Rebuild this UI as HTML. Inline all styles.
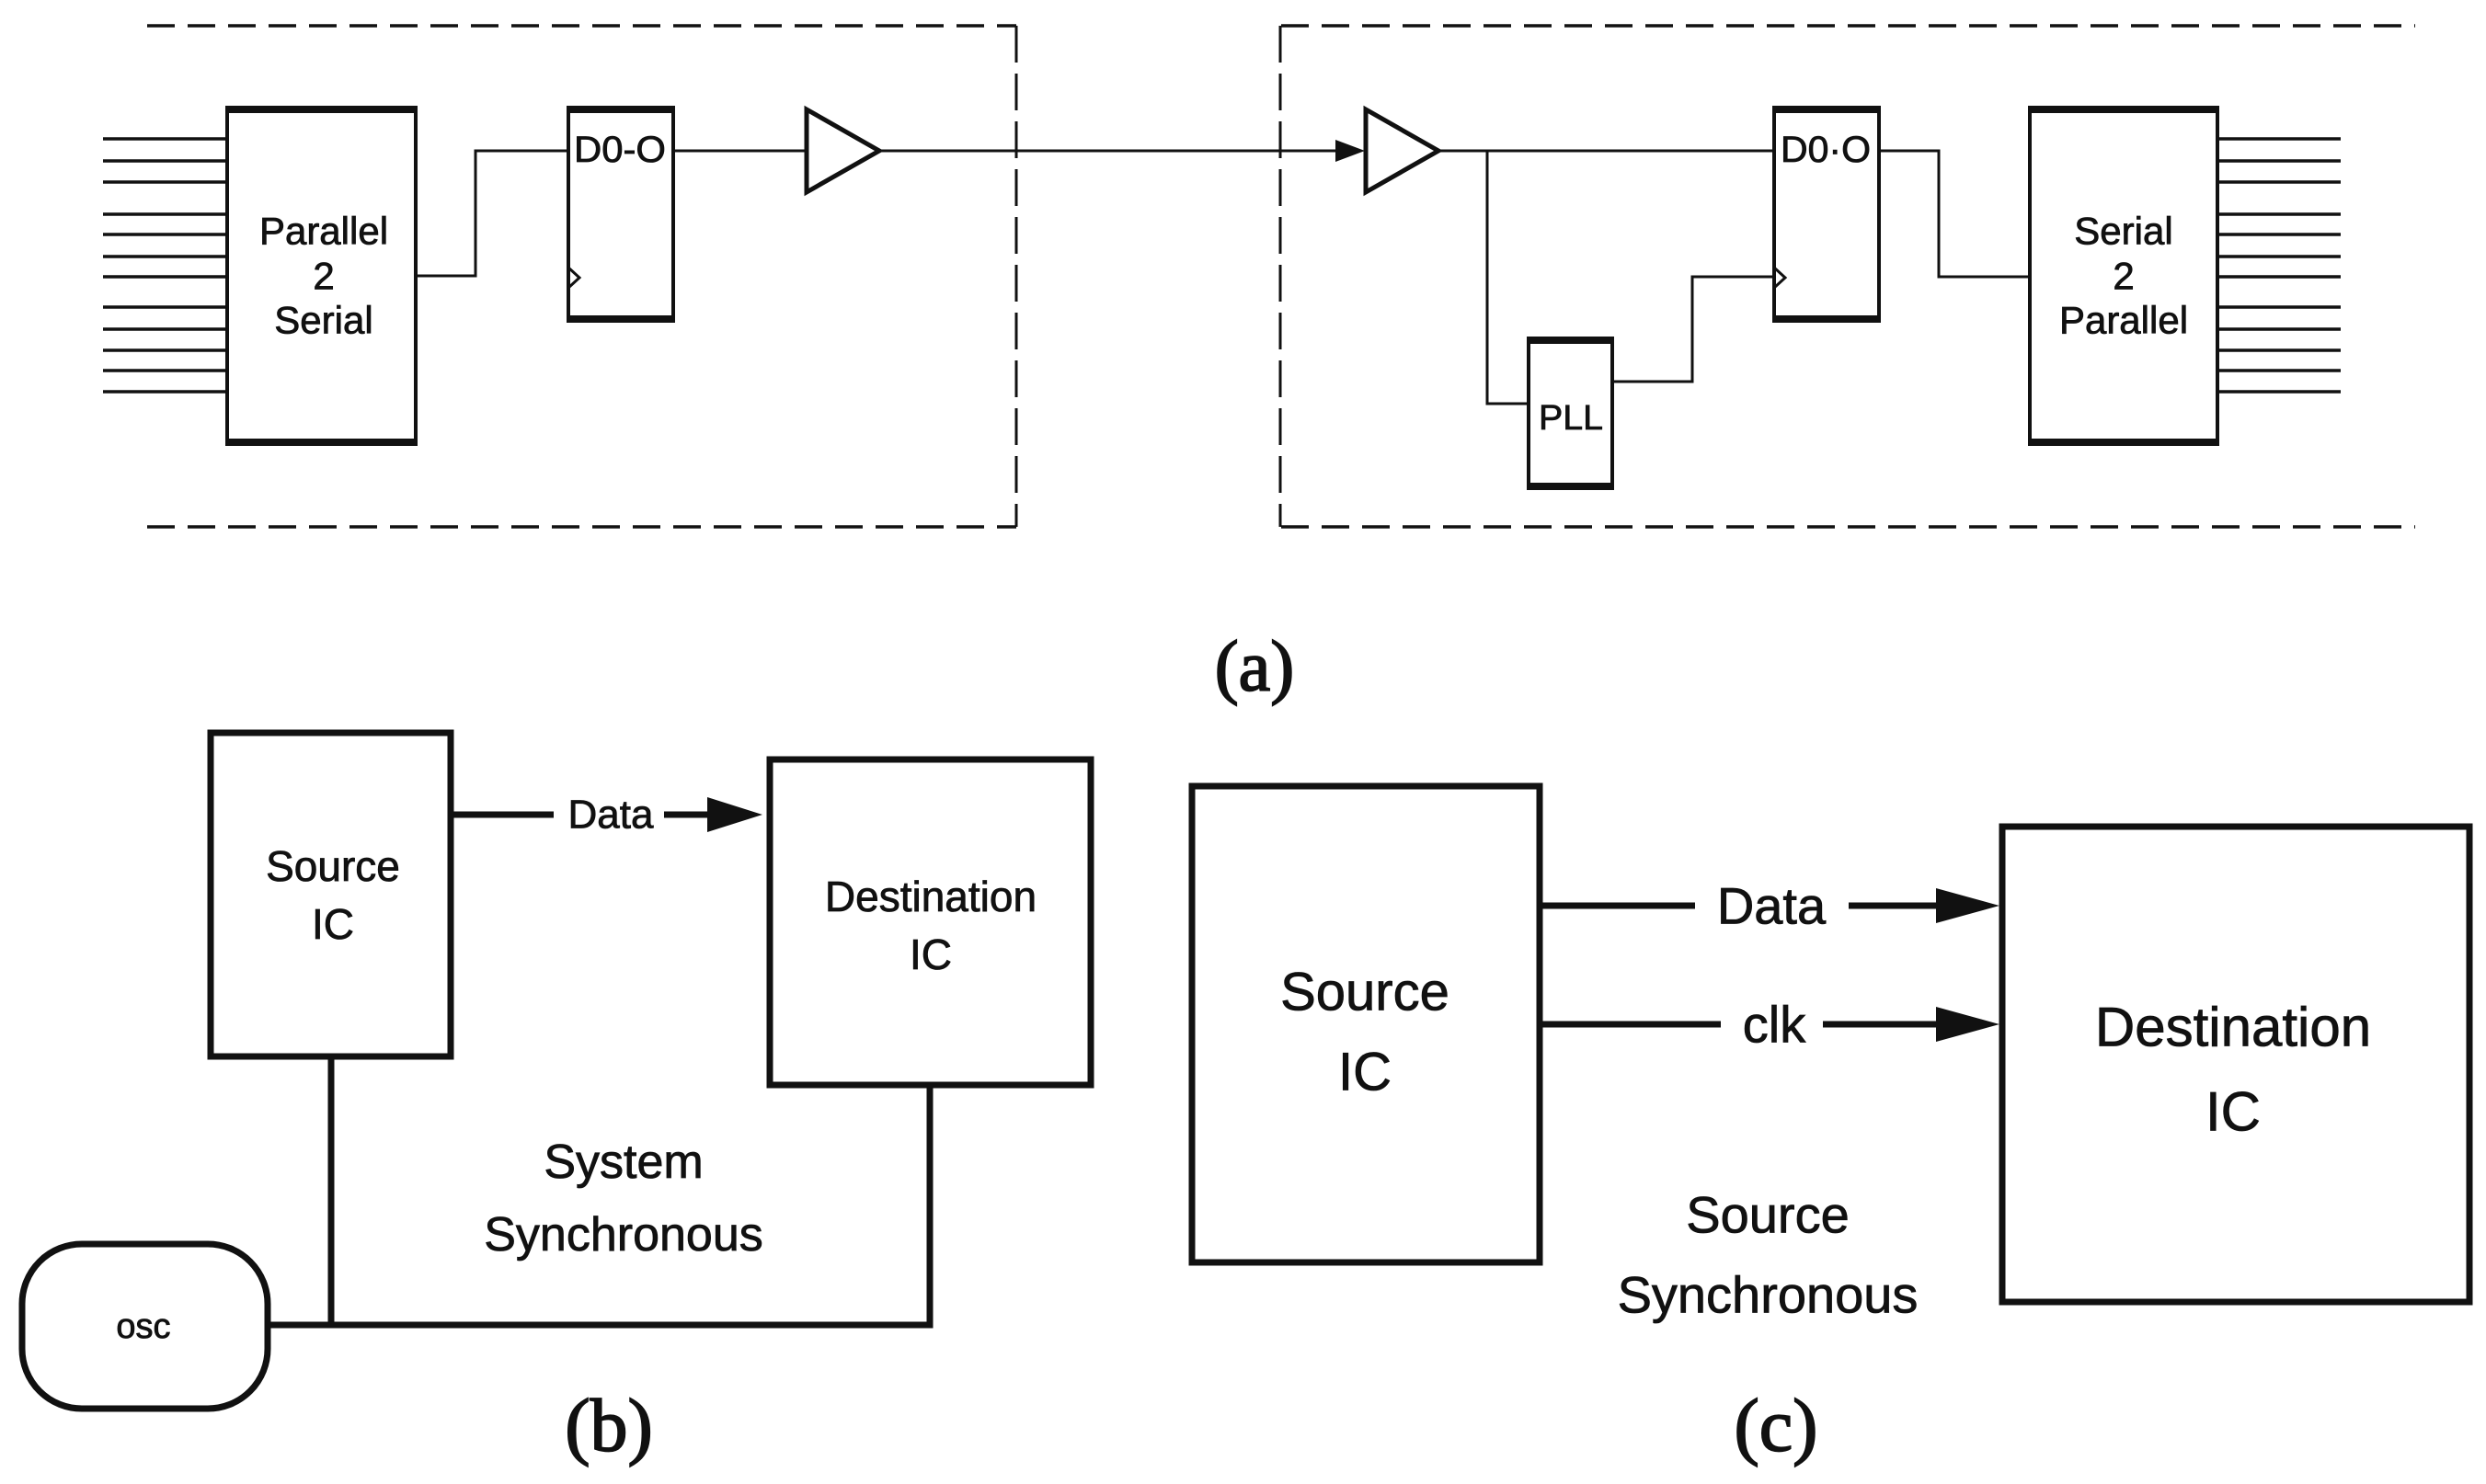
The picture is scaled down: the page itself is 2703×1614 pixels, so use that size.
<!DOCTYPE html>
<html><head><meta charset="utf-8"><style>
html,body{margin:0;padding:0;background:#fff;}
svg{display:block;}
text{font-family:"Liberation Sans",Arial,sans-serif;fill:#111;stroke:#111;stroke-width:0.8;}
.s{font-family:"Liberation Serif",serif;stroke-width:1.8;}
</style></head><body>
<svg width="2703" height="1614" viewBox="0 0 2703 1614" xmlns="http://www.w3.org/2000/svg">
<g stroke="#111" fill="none">
<g stroke-width="3.5" stroke-dasharray="30,14">
<line x1="160" y1="28" x2="1105" y2="28"/>
<line x1="160" y1="573" x2="1105" y2="573"/>
<line x1="1393" y1="28" x2="2626" y2="28"/>
<line x1="1393" y1="573" x2="2626" y2="573"/>
</g>
<g stroke-width="3" stroke-dasharray="40,12">
<line x1="1105" y1="28" x2="1105" y2="573"/>
<line x1="1392" y1="28" x2="1392" y2="573"/>
</g>
<g stroke-width="3.5">
<path d="M112 151H246M112 175H246M112 198H246M112 233H246M112 255H246M112 279H246M112 301H246M112 334H246M112 358H246M112 381H246M112 403H246M112 426H246"/>
<path d="M2411 151H2545M2411 175H2545M2411 198H2545M2411 233H2545M2411 255H2545M2411 279H2545M2411 301H2545M2411 334H2545M2411 358H2545M2411 381H2545M2411 403H2545M2411 426H2545"/>
</g>
<g stroke-width="4">
<rect x="247" y="119" width="205" height="363"/>
<rect x="618" y="119" width="114" height="229"/>
<rect x="1929" y="119" width="114" height="229"/>
<rect x="1662" y="370" width="91" height="160"/>
<rect x="2207" y="119" width="204" height="363"/>
</g>
<g stroke-width="8">
<path d="M245 119H454M245 481H454M616 119H734M616 347H734M1927 119H2045M1927 347H2045M1660 370H1755M1660 529H1755M2205 119H2413M2205 481H2413"/>
</g>
<g stroke-width="3">
<path d="M452 300H517V164H618"/>
<path d="M732 164H876"/>
<path d="M956 164H1455"/>
<path d="M1564 164H1929"/>
<path d="M1617 164V439H1662"/>
<path d="M1753 415H1840V301H1929"/>
<path d="M2043 164H2108V301H2207"/>
<path d="M618 291L630 302L618 313"/>
<path d="M1929 291L1941 302L1929 313"/>
</g>
<g stroke-width="5" stroke-linejoin="miter">
<polygon points="877,119 956,164 877,209"/>
<polygon points="1485,119 1564,164 1485,209"/>
</g>
<polygon points="1452,152 1484,164 1452,176" fill="#111" stroke="none"/>
<g stroke-width="7">
<rect x="229" y="797" width="261" height="352"/>
<rect x="837" y="826" width="349" height="354"/>
<rect x="24" y="1353" width="267" height="179" rx="65" ry="65"/>
<path d="M360 1149V1441M291 1441H1011V1180"/>
<path d="M490 886H602M722 886H775"/>
</g>
<polygon points="769,867 829,886 769,905" fill="#111" stroke="none"/>
<g stroke-width="7">
<rect x="1296" y="855" width="378" height="518"/>
<rect x="2177" y="899" width="508" height="517"/>
<path d="M1674 985H1843M2010 985H2110M1674 1114H1871M1982 1114H2110"/>
</g>
<polygon points="2105,966 2174,985 2105,1004" fill="#111" stroke="none"/>
<polygon points="2105,1095 2174,1114 2105,1133" fill="#111" stroke="none"/>
</g>
<g text-anchor="middle" dominant-baseline="central">
<text x="352" y="251" font-size="42">Parallel</text>
<text x="352" y="300" font-size="42">2</text>
<text x="352" y="348" font-size="42">Serial</text>
<text x="674" y="163" font-size="40" textLength="100" lengthAdjust="spacingAndGlyphs">D0-O</text>
<text x="1985" y="163" font-size="40" textLength="98" lengthAdjust="spacingAndGlyphs">D0·O</text>
<text x="1708" y="455" font-size="38" textLength="70" lengthAdjust="spacingAndGlyphs">PLL</text>
<text x="2309" y="251" font-size="42">Serial</text>
<text x="2309" y="300" font-size="42">2</text>
<text x="2309" y="348" font-size="42">Parallel</text>
<text class="s" x="1364" y="724" font-size="78">(a)</text>

<text x="362" y="942" font-size="46">Source</text>
<text x="362" y="1005" font-size="46">IC</text>
<text x="664" y="886" font-size="44">Data</text>
<text x="1012" y="975" font-size="46">Destination</text>
<text x="1012" y="1038" font-size="46">IC</text>
<text x="678" y="1264" font-size="52">System</text>
<text x="678" y="1343" font-size="52">Synchronous</text>
<text x="156" y="1443" font-size="38">osc</text>
<text class="s" x="662" y="1550" font-size="82">(b)</text>

<text x="1484" y="1079" font-size="58">Source</text>
<text x="1484" y="1166" font-size="58">IC</text>
<text x="1926" y="985" font-size="56">Data</text>
<text x="1929" y="1114" font-size="56">clk</text>
<text x="2428" y="1117" font-size="60">Destination</text>
<text x="2428" y="1209" font-size="60">IC</text>
<text x="1922" y="1321" font-size="56">Source</text>
<text x="1922" y="1408" font-size="56">Synchronous</text>
<text class="s" x="1931" y="1550" font-size="82">(c)</text>
</g>
</svg>
</body></html>
